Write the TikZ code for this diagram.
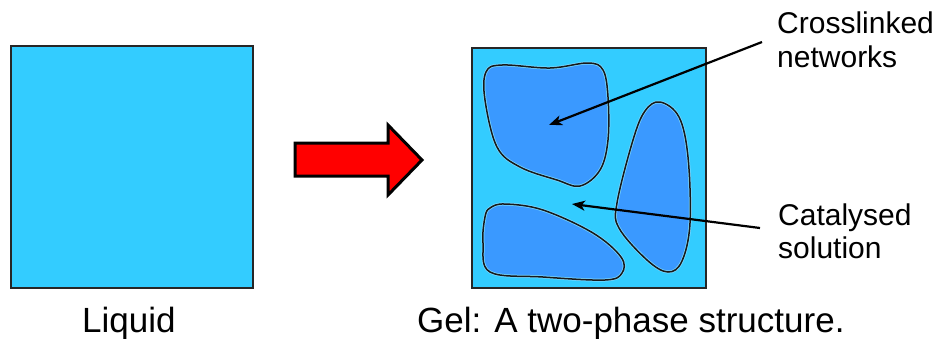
\documentclass[tikz,border=0pt]{standalone}
\usepackage{fontspec}
\setmainfont{Liberation Sans}
\usetikzlibrary{arrows.meta}
\definecolor{liq}{RGB}{51,204,255}
\definecolor{net}{RGB}{58,153,255}
\definecolor{halo}{RGB}{120,215,255}
\begin{document}
\begin{tikzpicture}[x=1pt,y=-1pt,
  box/.style={fill=liq,draw=black!85,line width=1.5pt},
  blob/.style={fill=net,postaction={draw=halo,line width=3pt},postaction={draw=black!90,line width=1.5pt}},
  lbl/.style={inner sep=0pt,anchor=base west,font=\fontsize{30}{34}\selectfont},
  caplbl/.style={inner sep=0pt,anchor=base west,font=\fontsize{35}{40}\selectfont},
  ptr/.style={draw=black,line width=2.2pt,-{Stealth[length=13pt,width=10pt,inset=3.5pt]}},
  bigarrow/.style={fill=red,draw=black,line width=3pt,line join=miter}]
\useasboundingbox (0,0) rectangle (934,338);
% liquid square
\draw[box] (11,46) rectangle (253,288);
% transition arrow
\path[bigarrow] (295,143) -- (388,143) -- (388,125) -- (422,160) -- (388,195) -- (388,176) -- (295,176) -- cycle;
% gel square
\draw[box] (472,48) rectangle (706,288);
% blobs
\path[blob] plot[smooth cycle, tension=0.6] coordinates {(486,72) (502,65) (550,68) (588,63) (603,70) (608,97) (608,140) (600,170) (580,186) (557,180) (520,167) (497,147) (485,100)};
\path[blob] plot[smooth cycle, tension=0.6] coordinates {(660,102) (645,111) (633,140) (617,203) (619,228) (647,260) (668,272) (682,261) (690,223) (688,157) (679,117)};
\path[blob] plot[smooth cycle, tension=0.6] coordinates {(490,208) (505,204) (543,210) (593,233) (621,257) (622,273) (605,280) (543,277) (490,272) (483,243) (485,217)};
% labels
\node[lbl] (cl1) at (777,33) {Crosslinked};
\node[lbl] (cl2) at (777,67) {networks};
\node[lbl] (cs1) at (778,225) {Catalysed};
\node[lbl] (cs2) at (778,258) {solution};
\node[caplbl] (liq) at (82,332) {Liquid};
\node[caplbl] (gel) at (417,332) {Gel: A two-phase structure.};
% pointers
\coordinate (cls) at (762,42);
\coordinate (clt) at (549,125);
\coordinate (css) at (760,228);
\coordinate (cst) at (572,204);
\draw[ptr] (cls) -- (clt);
\draw[ptr] (css) -- (cst);
\end{tikzpicture}
\end{document}
